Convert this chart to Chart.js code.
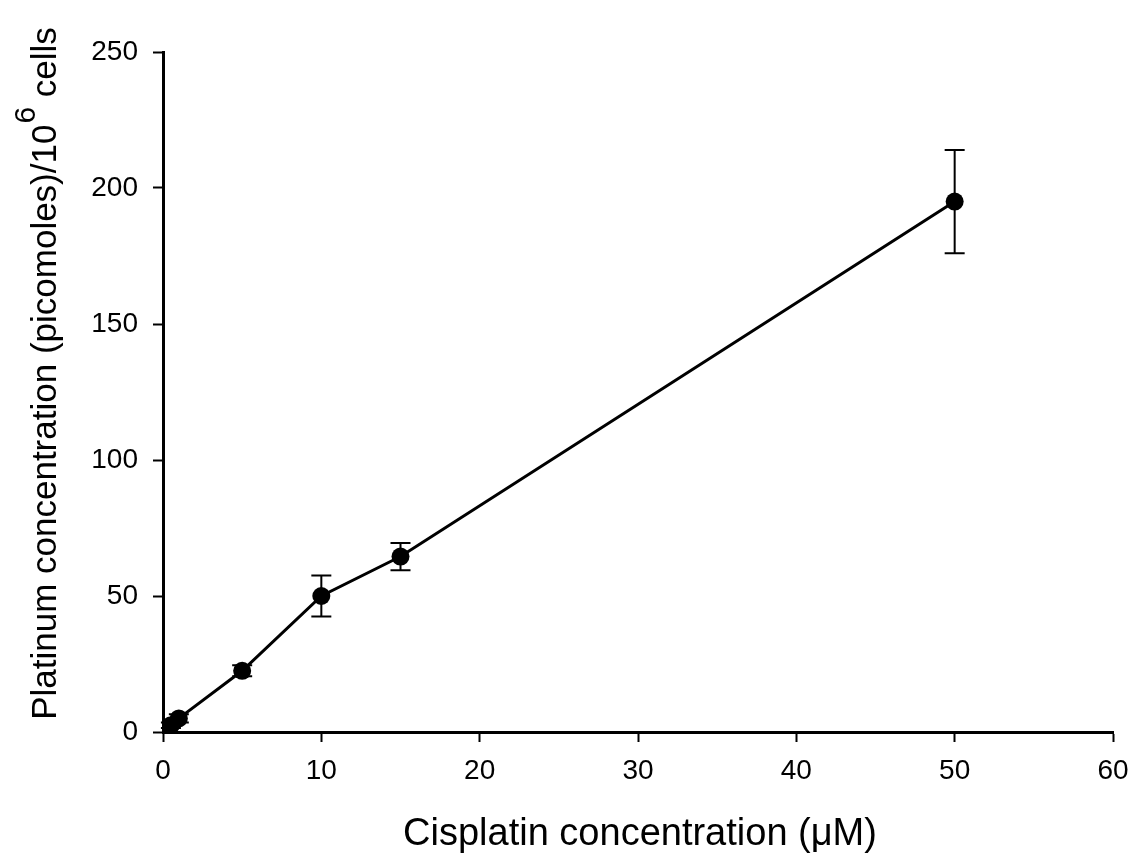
<!DOCTYPE html>
<html>
<head>
<meta charset="utf-8">
<script src="https://cdn.jsdelivr.net/npm/chart.js@4"></script>
<style>
  html, body { margin: 0; padding: 0; background: #fff; }
  #wrap { width: 1130px; height: 863px; }
</style>
</head>
<body>
<div id="wrap"><canvas id="chart" width="1130" height="863"></canvas></div>
<script>
// Cisplatin uptake data
const doses = [0.5, 1, 5, 10, 15, 50];
const platinum = [2.5, 5, 22.5, 50, 64.5, 195];
const errors = [1, 1.5, 2, 7.5, 5, 19];
const xTicks = [0, 10, 20, 30, 40, 50, 60];
const yTicks = [0, 50, 100, 150, 200, 250];

const FONT = 'Liberation Sans';

// error bars drawn before the points so the markers sit on top
const errorBars = {
    id: 'errorBars',
    beforeDatasetsDraw(chart) {
        const ctx = chart.ctx;
        const x = chart.scales.x;
        const y = chart.scales.y;
        ctx.save();
        ctx.strokeStyle = '#000';
        ctx.lineWidth = 2;
        doses.forEach((d, i) => {
            const px = x.getPixelForValue(d);
            const top = y.getPixelForValue(platinum[i] + errors[i]);
            const bot = y.getPixelForValue(platinum[i] - errors[i]);
            ctx.beginPath();
            ctx.moveTo(px, top); ctx.lineTo(px, bot);
            ctx.moveTo(px - 10, top); ctx.lineTo(px + 10, top);
            ctx.moveTo(px - 10, bot); ctx.lineTo(px + 10, bot);
            ctx.stroke();
        });
        ctx.restore();
    }
};

// axis titles, the y one needs a superscript
const axisTitles = {
    id: 'axisTitles',
    afterDraw(chart) {
        const ctx = chart.ctx;
        ctx.save();
        ctx.fillStyle = '#000';
        ctx.textBaseline = 'alphabetic';
        ctx.font = '38px "' + FONT + '"';
        ctx.textAlign = 'center';
        ctx.fillText('Cisplatin concentration (\u03BCM)', 640, 845);

        const main = 'Platinum concentration (picomoles)/10';
        const sup = '6';
        const tail = ' cells';
        ctx.font = '35px "' + FONT + '"';
        const w1 = ctx.measureText(main).width;
        const w3 = ctx.measureText(tail).width;
        ctx.font = '30px "' + FONT + '"';
        const w2 = ctx.measureText(sup).width;
        const total = w1 + w2 + w3;
        ctx.translate(56, 374);
        ctx.rotate(-Math.PI / 2);
        ctx.textAlign = 'left';
        let cx = -total / 2;
        ctx.font = '35px "' + FONT + '"';
        ctx.fillText(main, cx, 0);
        cx += w1 + 1;
        ctx.font = '30px "' + FONT + '"';
        ctx.fillText(sup, cx, -21);
        cx += w2;
        ctx.font = '35px "' + FONT + '"';
        ctx.fillText(tail, cx, 0);
        ctx.restore();
    }
};

new Chart(document.getElementById('chart'), {
    type: 'scatter',
    data: {
        datasets: [{
            data: doses.map((d, i) => ({ x: d, y: platinum[i] })),
            showLine: true,
            borderColor: '#000',
            borderWidth: 3,
            backgroundColor: '#000',
            pointBackgroundColor: '#000',
            pointBorderColor: '#000',
            pointRadius: 9,
            pointBorderWidth: 0
        }]
    },
    options: {
        responsive: false,
        animation: false,
        layout: { padding: { top: 52, right: 17, left: 0, bottom: 0 } },
        plugins: {
            legend: { display: false },
            tooltip: { enabled: false }
        },
        scales: {
            x: {
                type: 'linear',
                min: 0,
                max: 60,
                afterBuildTicks: (s) => { s.ticks = xTicks.map(v => ({ value: v })); },
                afterFit: (s) => { s.height = 131; s.paddingLeft = 0; s.paddingRight = 0; },
                border: { color: '#000', width: 3 },
                grid: { drawOnChartArea: false, drawTicks: true, tickLength: 10, tickColor: '#000', tickWidth: 2 },
                ticks: { color: '#000', font: { family: FONT, size: 28 }, padding: 12, maxRotation: 0 }
            },
            y: {
                min: 0,
                max: 250,
                afterBuildTicks: (s) => { s.ticks = yTicks.map(v => ({ value: v })); },
                afterFit: (s) => { s.width = 163; s.paddingTop = 0; s.paddingBottom = 0; },
                border: { color: '#000', width: 3 },
                grid: { drawOnChartArea: false, drawTicks: true, tickLength: 10, tickColor: '#000', tickWidth: 2 },
                ticks: { color: '#000', font: { family: FONT, size: 28 }, padding: 15 }
            }
        }
    },
    plugins: [errorBars, axisTitles]
});
</script>
</body>
</html>
